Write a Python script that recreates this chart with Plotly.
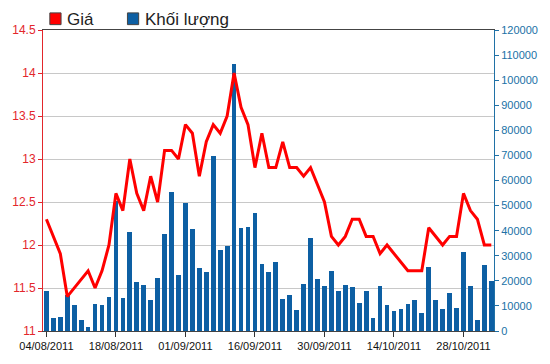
import plotly.graph_objects as go

dates = [
    "04/08/2011", "05/08/2011", "08/08/2011", "09/08/2011", "10/08/2011", "11/08/2011", "12/08/2011",
    "15/08/2011", "16/08/2011", "17/08/2011", "18/08/2011", "19/08/2011", "22/08/2011", "23/08/2011",
    "24/08/2011", "25/08/2011", "26/08/2011", "29/08/2011", "30/08/2011", "31/08/2011",
    "01/09/2011", "05/09/2011", "06/09/2011", "07/09/2011", "08/09/2011", "09/09/2011", "12/09/2011",
    "13/09/2011", "14/09/2011", "15/09/2011", "16/09/2011", "19/09/2011", "20/09/2011", "21/09/2011",
    "22/09/2011", "23/09/2011", "26/09/2011", "27/09/2011", "28/09/2011", "29/09/2011", "30/09/2011",
    "03/10/2011", "04/10/2011", "05/10/2011", "06/10/2011", "07/10/2011", "10/10/2011", "11/10/2011",
    "12/10/2011", "13/10/2011", "14/10/2011", "17/10/2011", "18/10/2011", "19/10/2011", "20/10/2011",
    "21/10/2011", "24/10/2011", "25/10/2011", "26/10/2011", "27/10/2011", "28/10/2011", "31/10/2011",
    "01/11/2011", "02/11/2011", "03/11/2011",
]

price = [
    12.3, 12.1, 11.9, 11.4, 11.5, 11.6, 11.7, 11.5, 11.7, 12.0,
    12.6, 12.4, 13.0, 12.6, 12.4, 12.8, 12.5, 13.1, 13.1, 13.0,
    13.4, 13.3, 12.8, 13.2, 13.4, 13.3, 13.5, 14.0, 13.6, 13.4,
    12.9, 13.3, 12.9, 12.9, 13.2, 12.9, 12.9, 12.8, 12.9, 12.7,
    12.5, 12.1, 12.0, 12.1, 12.3, 12.3, 12.1, 12.1, 11.9, 12.0,
    11.9, 11.8, 11.7, 11.7, 11.7, 12.2, 12.1, 12.0, 12.1, 12.1,
    12.6, 12.4, 12.3, 12.0, 12.0,
]

volume = [
    16000, 5000, 5500, 14300, 10200, 4500, 1600, 10700, 10200, 13600,
    52000, 13000, 39400, 19400, 18400, 12200, 21100, 38600, 55500, 22200,
    51100, 40500, 25100, 23700, 69800, 32400, 34000, 106400, 41000, 41500,
    47200, 26700, 23500, 27500, 12600, 14500, 8300, 18900, 37100, 20700,
    17800, 24100, 15900, 18200, 17700, 11100, 16000, 5000, 17800, 10200,
    7900, 8800, 10600, 12200, 7300, 25600, 12200, 8800, 15000, 9300,
    31400, 17800, 4500, 26200, 19800,
]

tick_dates = ["04/08/2011", "18/08/2011", "01/09/2011", "16/09/2011",
              "30/09/2011", "14/10/2011", "28/10/2011"]

legend_names = ["Giá", "Khối lượng"]

RED = "#FF0000"
RED_TXT = "#E3262B"
BLUE = "#0D5FA3"
BLUE_TXT = "#2071A6"

W, H = 550, 364
ML, MR, MT, MB = 35, 53, 30, 26
PW, PH = W - ML - MR, H - MT - MB


def px(x):
    return (x - ML) / PW


def py(y):
    return (H - MB - y) / PH


fig = go.Figure()
fig.add_trace(go.Bar(x=dates, y=volume, name=legend_names[1], marker_color=BLUE,
                     marker_line_width=0, width=0.68, yaxis="y", showlegend=False))
fig.add_trace(go.Scatter(x=dates, y=price, name=legend_names[0], mode="lines",
                         line=dict(color=RED, width=3), yaxis="y2", showlegend=False))

font_family = "Liberation Sans, Arial, sans-serif"

fig.update_layout(
    width=W, height=H,
    margin=dict(l=ML, r=MR, t=MT, b=MB, pad=0),
    paper_bgcolor="white", plot_bgcolor="white",
    font=dict(family=font_family, size=11, color="#111"),
    bargap=0,
    xaxis=dict(
        type="category", range=[-0.49, 64.39],
        tickmode="array", tickvals=tick_dates, ticktext=tick_dates,
        showline=True, linecolor="#444", linewidth=1, mirror=True,
        ticks="outside", ticklen=5, tickcolor="#333",
        showgrid=False, tickfont=dict(size=11, color="#111"),
    ),
    yaxis=dict(
        side="right", range=[0, 120000], dtick=10000, tick0=0,
        tickformat="d",
        showgrid=False, zeroline=False,
        showline=True, linecolor=BLUE_TXT, linewidth=1,
        ticks="outside", ticklen=4, tickcolor=BLUE_TXT,
        tickfont=dict(size=11, color=BLUE_TXT),
    ),
    yaxis2=dict(
        overlaying="y", side="left", range=[11, 14.5], dtick=0.5, tick0=11,
        showgrid=True, gridcolor="#C8C8C8", gridwidth=1, zeroline=False,
        showline=True, linecolor=RED_TXT, linewidth=1,
        ticks="outside", ticklen=4, tickcolor=RED_TXT,
        tickfont=dict(size=12, color=RED_TXT),
    ),
    shapes=[
        dict(type="rect", xref="paper", yref="paper",
             x0=px(42), x1=px(53.5), y0=py(24.5), y1=py(12.5),
             fillcolor=RED, line=dict(color="#444", width=1)),
        dict(type="rect", xref="paper", yref="paper",
             x0=px(121.5), x1=px(133), y0=py(24.5), y1=py(12.5),
             fillcolor=BLUE, line=dict(color="#444", width=1)),
    ],
    annotations=[
        dict(text=legend_names[0], xref="paper", yref="paper", x=px(58), y=py(19),
             xanchor="left", yanchor="middle", showarrow=False,
             font=dict(size=17, color="#222", family=font_family)),
        dict(text=legend_names[1], xref="paper", yref="paper", x=px(137), y=py(19),
             xanchor="left", yanchor="middle", showarrow=False,
             font=dict(size=17, color="#222", family=font_family)),
    ],
)

fig.write_html("out.html")
